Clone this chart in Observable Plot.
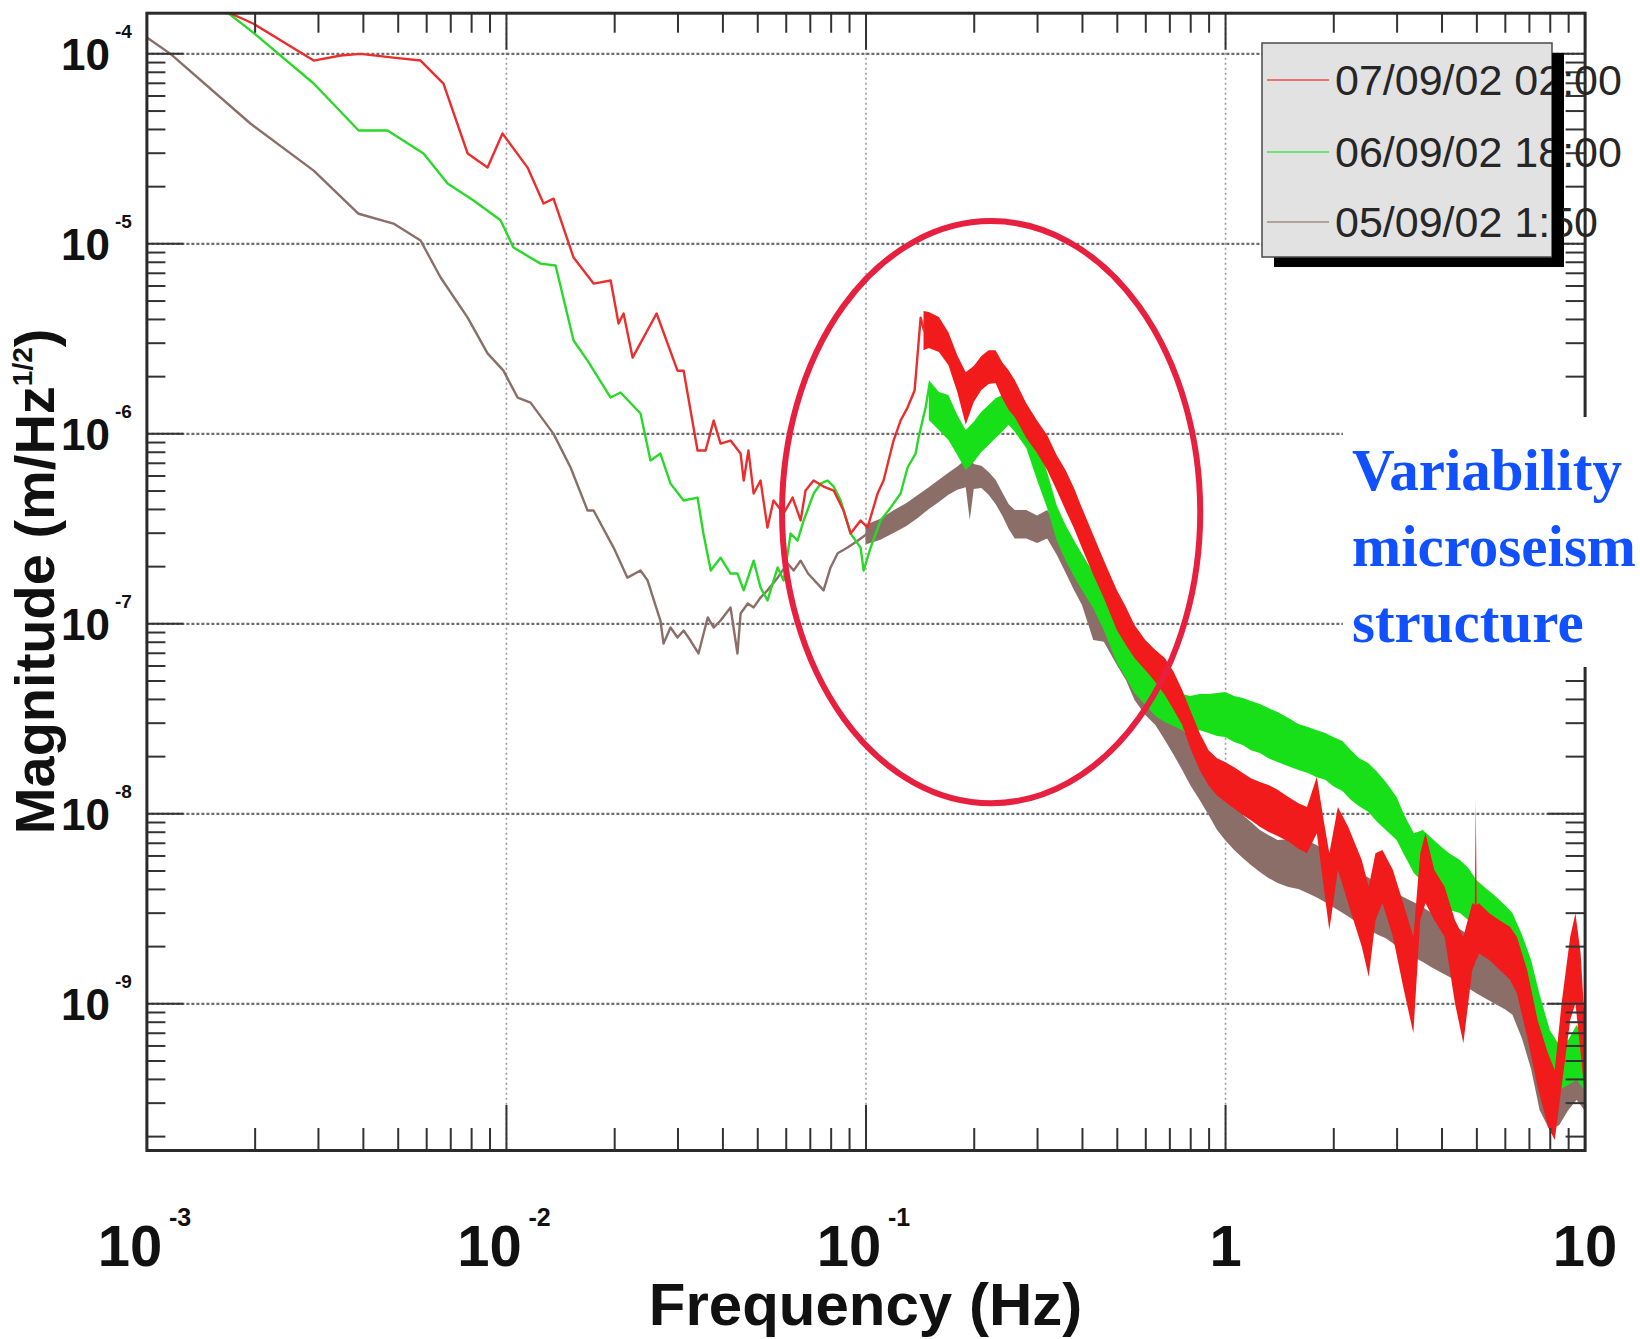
<!DOCTYPE html>
<html><head><meta charset="utf-8">
<script src="https://cdn.jsdelivr.net/npm/d3@7"></script>
<script src="https://cdn.jsdelivr.net/npm/@observablehq/plot@0.6"></script>
<style>
html,body{margin:0;padding:0;background:#fff;overflow:hidden;width:1640px;height:1339px}
svg{display:block}
</style></head><body>
<div id="chart"></div>
<script>
// ---------- data ----------
const seriesNames = ["07/09/02 02:00", "06/09/02 18:00", "05/09/02 1:50"];
const seriesColors = ["#f21b1b", "#18e018", "#8c6e68"];

const xMajor = [1e-3, 1e-2, 1e-1, 1, 10];
const xExpTicks = [1e-3, 1e-2, 1e-1];
const xExpLabels = ["-3", "-2", "-1"];
const xPlainTicks = [1, 10];
const xPlainLabels = ["1", "10"];
const yMajor = [1e-4, 1e-5, 1e-6, 1e-7, 1e-8, 1e-9];
const yExpLabels = ["-4", "-5", "-6", "-7", "-8", "-9"];
const yDomain = [1.69e-10, 1.637e-4];

// [frequency Hz, magnitude]
const redLine = [
[1.62e-3,1.71e-4],[1.98e-3,1.44e-4],[2.91e-3,9.22e-5],[3.46e-3,9.8e-5],[3.93e-3,1.0e-4],[4.85e-3,9.56e-5],
[5.77e-3,9.22e-5],[6.68e-3,6.98e-5],[7.80e-3,2.99e-5],[8.86e-3,2.52e-5],[9.75e-3,3.81e-5],[1.145e-2,2.52e-5],
[1.268e-2,1.63e-5],[1.352e-2,1.73e-5],[1.537e-2,8.47e-6],[1.747e-2,6.18e-6],[1.949e-2,6.41e-6],[2.05e-2,3.81e-6],
[2.117e-2,4.30e-6],[2.243e-2,2.52e-6],[2.616e-2,4.30e-6],[2.99e-2,2.15e-6],[3.11e-2,2.15e-6],[3.40e-2,8.17e-7],
[3.58e-2,8.17e-7],[3.77e-2,1.175e-6],[3.94e-2,8.89e-7],[4.20e-2,9.22e-7],[4.48e-2,7.87e-7],[4.57e-2,5.68e-7],
[4.71e-2,8.17e-7],[4.87e-2,4.85e-7],[5.09e-2,5.68e-7],[5.32e-2,3.21e-7],[5.53e-2,4.46e-7],[5.90e-2,3.81e-7],
[6.25e-2,4.62e-7],[6.58e-2,3.50e-7],[6.79e-2,5.03e-7],[7.15e-2,5.68e-7],[7.62e-2,5.28e-7],[8.13e-2,5.03e-7],
[8.66e-2,3.95e-7],[9.06e-2,2.99e-7],[9.66e-2,3.50e-7],[0.101,3.21e-7],[0.1077,4.85e-7],[0.1119,5.68e-7],
[0.1193,9.22e-7],[0.1248,1.175e-6],[0.1305,1.375e-6],[0.1365,1.69e-6],[0.1419,4.09e-6],[0.145,3.5e-6]
];
// [frequency, low edge, high edge] of the noisy part
const redBand = [
[0.145,2.74e-6,4.40e-6],[0.15,2.81e-6,4.35e-6],[0.16,2.68e-6,4.09e-6],[0.17,2.29e-6,3.41e-6],[0.18,1.65e-6,2.58e-6],
[0.19,1.11e-6,2.10e-6],[0.20,1.46e-6,2.26e-6],[0.21,1.69e-6,2.55e-6],[0.22,1.82e-6,2.74e-6],[0.23,1.84e-6,2.74e-6],
[0.24,1.53e-6,2.37e-6],[0.25,1.33e-6,2.15e-6],[0.26,1.22e-6,1.91e-6],[0.28,9.45e-7,1.44e-6],[0.30,7.87e-7,1.17e-6],
[0.32,6.41e-7,9.80e-7],[0.34,5.03e-7,7.69e-7],[0.36,3.95e-7,6.41e-7],[0.38,3.17e-7,5.15e-7],[0.40,2.49e-7,4.05e-7],
[0.43,1.80e-7,2.92e-7],[0.46,1.36e-7,2.15e-7],[0.50,9.22e-8,1.50e-7],[0.53,7.69e-8,1.22e-7],[0.56,6.57e-8,9.80e-8],
[0.60,5.68e-8,8.17e-8],[0.64,4.91e-8,7.24e-8],[0.68,4.19e-8,6.57e-8],[0.72,3.50e-8,5.54e-8],[0.76,2.92e-8,4.46e-8],
[0.80,2.21e-8,3.50e-8],[0.85,1.69e-8,2.65e-8],[0.90,1.40e-8,2.15e-8],[0.95,1.24e-8,1.95e-8],[1.00,1.15e-8,1.86e-8],
[1.06,1.06e-8,1.75e-8],[1.12,9.8e-9,1.63e-8],[1.18,9.2e-9,1.53e-8],[1.25,8.5e-9,1.46e-8],[1.32,8.0e-9,1.41e-8],
[1.40,7.6e-9,1.33e-8],[1.50,7.1e-9,1.22e-8],[1.60,6.5e-9,1.13e-8],[1.69,6.16e-9,1.08e-8],[1.80,7.85e-9,1.56e-8],
[1.88,4.11e-9,9.22e-9],[1.95,2.43e-9,6.16e-9],[2.06,5.03e-9,1.08e-8],[2.20,3.36e-9,8.50e-9],[2.40,1.99e-9,5.68e-9],
[2.51,1.38e-9,4.11e-9],[2.62,2.74e-9,6.16e-9],[2.74,3.36e-9,6.41e-9],[2.93,2.24e-9,5.03e-9],[3.13,1.22e-9,3.36e-9],
[3.34,6.95e-10,2.24e-9],[3.49,2.74e-9,6.16e-9],[3.61,3.36e-9,7.85e-9],[3.82,2.74e-9,5.03e-9],[4.08,2.24e-9,4.11e-9],
[4.36,1.0e-9,2.74e-9],[4.60,6.16e-10,2.24e-9],[4.87,1.50e-9,3.36e-9],[4.95,1.6e-9,3.3e-9],[4.98,1.69e-9,1.17e-8],
[5.01,1.7e-9,3.3e-9],[5.09,1.83e-9,3.36e-9],[5.43,1.69e-9,2.98e-9],[5.80,1.50e-9,2.74e-9],[6.20,1.33e-9,2.53e-9],
[6.48,1.13e-9,2.24e-9],[6.92,6.67e-10,1.50e-9],[7.40,3.64e-10,8.17e-10],[7.91,2.24e-10,5.46e-10],[8.26,1.91e-10,4.46e-10],
[8.63,3.64e-10,1.0e-9],[9.12,8.17e-10,2.24e-9],[9.43,1.0e-9,2.98e-9],[9.75,5.46e-10,1.83e-9],[10.0,3.36e-10,8.17e-10]
];

const greenLine = [
[1.58e-3,1.80e-4],[1.98e-3,1.29e-4],[2.91e-3,6.98e-5],[3.88e-3,3.95e-5],[4.67e-3,3.95e-5],[5.88e-3,2.99e-5],
[6.86e-3,2.08e-5],[8.10e-3,1.69e-5],[9.63e-3,1.33e-5],[1.046e-2,9.56e-6],[1.244e-2,7.87e-6],[1.37e-2,7.69e-6],
[1.537e-2,3.10e-6],[1.681e-2,2.43e-6],[1.949e-2,1.553e-6],[2.077e-2,1.65e-6],[2.36e-2,1.279e-6],[2.515e-2,7.24e-7],
[2.68e-2,7.87e-7],[2.86e-2,5.47e-7],[3.11e-2,4.46e-7],[3.40e-2,4.62e-7],[3.53e-2,2.99e-7],[3.70e-2,1.908e-7],
[3.94e-2,2.23e-7],[4.20e-2,1.84e-7],[4.39e-2,1.84e-7],[4.57e-2,1.50e-7],[4.87e-2,2.15e-7],[5.09e-2,1.553e-7],
[5.32e-2,1.326e-7],[5.68e-2,1.98e-7],[5.90e-2,1.69e-7],[6.17e-2,2.99e-7],[6.45e-2,2.74e-7],[6.71e-2,3.50e-7],
[7.15e-2,4.85e-7],[7.48e-2,5.47e-7],[7.82e-2,5.68e-7],[8.13e-2,5.28e-7],[8.50e-2,4.46e-7],[9.06e-2,2.99e-7],
[9.66e-2,2.52e-7],[9.85e-2,1.908e-7],[0.1030,2.52e-7],[0.1098,3.50e-7],[0.1171,4.09e-7],[0.1248,4.85e-7],
[0.1305,6.65e-7],[0.1374,7.87e-7],[0.1400,9.56e-7],[0.1465,1.375e-6],[0.1503,1.84e-6]
];
const greenBand = [
[0.15,1.175e-6,1.91e-6],[0.16,1.04e-6,1.65e-6],[0.17,9.22e-7,1.59e-6],[0.18,7.69e-7,1.25e-6],[0.19,6.41e-7,1.04e-6],
[0.20,7.06e-7,1.15e-6],[0.21,7.97e-7,1.30e-6],[0.22,8.68e-7,1.41e-6],[0.23,9.45e-7,1.53e-6],[0.24,1.02e-6,1.59e-6],
[0.25,1.11e-6,1.91e-6],[0.26,1.02e-6,1.59e-6],[0.28,8.37e-7,1.30e-6],[0.30,5.68e-7,8.68e-7],[0.32,4.05e-7,6.26e-7],
[0.34,2.74e-7,4.19e-7],[0.36,2.15e-7,3.29e-7],[0.38,1.77e-7,2.74e-7],[0.40,1.50e-7,2.32e-7],[0.43,1.20e-7,1.86e-7],
[0.46,9.22e-8,1.43e-7],[0.50,6.18e-8,9.56e-8],[0.53,5.15e-8,7.97e-8],[0.56,4.30e-8,6.65e-8],[0.60,3.72e-8,5.68e-8],
[0.64,3.25e-8,5.03e-8],[0.68,3.02e-8,4.68e-8],[0.72,2.88e-8,4.46e-8],[0.76,2.74e-8,4.25e-8],[0.80,2.68e-8,4.14e-8],
[0.85,2.74e-8,4.25e-8],[0.90,2.65e-8,4.25e-8],[0.95,2.55e-8,4.30e-8],[1.00,2.52e-8,4.35e-8],[1.06,2.37e-8,4.14e-8],
[1.12,2.29e-8,4.05e-8],[1.18,2.15e-8,3.90e-8],[1.25,2.08e-8,3.76e-8],[1.32,1.95e-8,3.58e-8],[1.40,1.86e-8,3.41e-8],
[1.50,1.77e-8,3.17e-8],[1.60,1.69e-8,2.95e-8],[1.70,1.63e-8,2.85e-8],[1.80,1.55e-8,2.74e-8],[1.90,1.50e-8,2.65e-8],
[2.00,1.39e-8,2.52e-8],[2.12,1.31e-8,2.40e-8],[2.24,1.175e-8,2.15e-8],[2.36,1.09e-8,1.95e-8],[2.50,1.02e-8,1.84e-8],
[2.65,9.00e-9,1.65e-8],[2.80,8.17e-9,1.46e-8],[3.00,7.24e-9,1.22e-8],[3.15,6.03e-9,9.80e-9],[3.35,4.85e-9,7.85e-9],
[3.55,4.35e-9,8.17e-9],[3.75,3.72e-9,7.41e-9],[4.00,3.29e-9,6.65e-9],[4.20,3.10e-9,6.16e-9],[4.50,2.99e-9,5.68e-9],
[4.75,2.74e-9,5.15e-9],[5.00,2.52e-9,4.46e-9],[5.30,2.43e-9,4.05e-9],[5.60,2.37e-9,3.72e-9],[6.00,2.23e-9,3.29e-9],
[6.30,2.10e-9,2.99e-9],[6.70,1.41e-9,2.29e-9],[7.10,1.04e-9,1.69e-9],[7.50,6.03e-10,1.11e-9],[8.00,4.19e-10,7.24e-10],
[8.50,3.50e-10,6.03e-10],[9.00,3.72e-10,6.41e-10],[9.50,3.95e-10,7.69e-10],[10.0,3.50e-10,6.41e-10]
];

const brownLine = [
[1.0e-3,1.22e-4],[1.163e-3,1.0e-4],[1.94e-3,4.30e-5],[2.91e-3,2.43e-5],[3.88e-3,1.44e-5],[4.85e-3,1.279e-5],
[5.77e-3,1.041e-5],[6.56e-3,6.65e-6],[7.80e-3,4.09e-6],[8.86e-3,2.65e-6],[9.81e-3,2.15e-6],[1.074e-2,1.553e-6],
[1.167e-2,1.46e-6],[1.352e-2,1.0e-6],[1.508e-2,6.65e-7],[1.681e-2,3.95e-7],[1.747e-2,3.95e-7],[1.986e-2,2.52e-7],
[2.17e-2,1.75e-7],[2.36e-2,1.908e-7],[2.47e-2,1.69e-7],[2.68e-2,1.041e-7],[2.735e-2,7.87e-8],[2.86e-2,9.56e-8],
[2.99e-2,8.47e-8],[3.11e-2,9.22e-8],[3.25e-2,8.17e-8],[3.42e-2,6.98e-8],[3.63e-2,1.08e-7],[3.77e-2,9.56e-8],
[3.94e-2,1.041e-7],[4.20e-2,1.22e-7],[4.39e-2,6.98e-8],[4.48e-2,1.133e-7],[4.69e-2,1.279e-7],[4.87e-2,1.22e-7],
[5.09e-2,1.375e-7],[5.32e-2,1.50e-7],[5.68e-2,1.75e-7],[6.05e-2,2.08e-7],[6.29e-2,1.908e-7],[6.58e-2,2.15e-7],
[6.90e-2,1.84e-7],[7.62e-2,1.50e-7],[7.97e-2,1.98e-7],[8.34e-2,2.35e-7],[8.89e-2,2.52e-7],[9.48e-2,2.74e-7],
[0.1010,2.99e-7]
];
const brownBand = [
[0.10,2.60e-7,3.30e-7],[0.11,2.75e-7,3.55e-7],[0.12,3.00e-7,3.95e-7],[0.13,3.25e-7,4.30e-7],[0.14,3.60e-7,4.75e-7],
[0.15,4.00e-7,5.20e-7],[0.16,4.35e-7,5.70e-7],[0.17,4.75e-7,6.20e-7],[0.18,5.05e-7,6.70e-7],[0.19,5.20e-7,7.30e-7],
[0.195,3.50e-7,7.50e-7],[0.20,5.10e-7,6.90e-7],[0.21,5.15e-7,6.75e-7],[0.22,4.75e-7,6.25e-7],[0.23,4.25e-7,5.70e-7],
[0.24,3.70e-7,4.90e-7],[0.25,3.15e-7,4.25e-7],[0.26,2.80e-7,3.95e-7],[0.28,2.80e-7,3.95e-7],[0.30,2.65e-7,3.70e-7],
[0.32,2.80e-7,3.95e-7],[0.34,2.30e-7,3.30e-7],[0.36,1.85e-7,2.60e-7],[0.38,1.50e-7,2.15e-7],[0.40,1.25e-7,1.80e-7],
[0.43,8.17e-8,1.45e-7],[0.46,8.00e-8,1.20e-7],[0.50,6.03e-8,9.80e-8],[0.53,5.03e-8,8.17e-8],[0.56,3.95e-8,6.81e-8],
[0.60,3.29e-8,5.82e-8],[0.64,2.92e-8,4.74e-8],[0.68,2.43e-8,3.95e-8],[0.72,2.03e-8,3.29e-8],[0.76,1.69e-8,2.81e-8],
[0.80,1.41e-8,2.43e-8],[0.85,1.175e-8,2.03e-8],[0.90,9.80e-9,1.69e-8],[0.95,8.17e-9,1.41e-8],[1.00,7.24e-9,1.25e-8],
[1.06,6.41e-9,1.11e-8],[1.12,5.82e-9,9.80e-9],[1.18,5.35e-9,9.00e-9],[1.25,4.91e-9,8.17e-9],[1.32,4.57e-9,7.69e-9],
[1.40,4.30e-9,7.24e-9],[1.50,4.1e-9,7.3e-9],[1.60,4.0e-9,7.5e-9],[1.70,3.8e-9,7.2e-9],[1.80,3.6e-9,6.8e-9],
[1.90,3.4e-9,6.4e-9],[2.00,3.2e-9,6.0e-9],[2.12,3.0e-9,5.6e-9],[2.24,2.8e-9,5.2e-9],[2.36,2.6e-9,4.9e-9],
[2.50,2.45e-9,4.6e-9],[2.65,2.3e-9,4.3e-9],[2.80,2.2e-9,4.1e-9],[3.00,2.0e-9,3.8e-9],[3.15,1.9e-9,3.6e-9],
[3.35,1.75e-9,3.4e-9],[3.55,1.65e-9,3.2e-9],[3.75,1.55e-9,3.0e-9],[4.00,1.45e-9,2.8e-9],[4.20,1.38e-9,2.6e-9],
[4.50,1.28e-9,2.45e-9],[4.75,1.2e-9,2.3e-9],[5.00,1.13e-9,2.15e-9],[5.30,1.06e-9,2.0e-9],[5.60,1.0e-9,1.9e-9],
[6.00,9.3e-10,1.78e-9],[6.30,8.7e-10,1.68e-9],[6.70,6.5e-10,1.25e-9],[7.10,4.5e-10,8.5e-10],[7.50,2.74e-10,4.74e-10],
[8.00,2.15e-10,3.50e-10],[8.50,2.29e-10,3.95e-10],[9.00,2.74e-10,5.03e-10],[9.50,3.10e-10,5.68e-10],[10.0,2.74e-10,5.03e-10]
];

// annotation ellipse bounds (data units)
const ellipseBox = {fMin: 0.0586, fMax: 0.853, mMin: 1.13e-8, mMax: 1.31e-5};
const noteLines = ["Variability", "microseism", "structure"];

// ---------- chart ----------
const W = 1640, H = 1339;
const mL = 146.4, mR = 55.4, mT = 12.7, mB = 189;
const innerW = W - mL - mR, innerH = H - mT - mB;
const sans = "'Liberation Sans', Arial, Helvetica, sans-serif";
const serif = "'Liberation Serif', 'Times New Roman', Times, serif";

const pts = a => a.map(([f, m]) => ({f, m}));
const band = a => a.map(([f, lo, hi]) => ({f, lo, hi}));

const xMinor = [];
for (const d of xMajor.slice(0, -1)) for (let k = 2; k <= 9; k++) xMinor.push(d * k);
const yMinor = [];
for (let e = -10; e <= -4; e++) for (let k = 2; k <= 9; k++) {
  const v = k * Math.pow(10, e);
  if (v > yDomain[0] && v < yDomain[1]) yMinor.push(v);
}

const [cRed, cGreen, cBrown] = seriesColors;
const tickStroke = "#333";

const chart = Plot.plot({
  width: W, height: H,
  marginLeft: mL, marginRight: mR, marginTop: mT, marginBottom: mB,
  x: {type: "log", domain: [1e-3, 10], axis: null},
  y: {type: "log", domain: yDomain, axis: null},
  marks: [
    Plot.ruleX(xMajor.slice(1, -1), {x: d => d, stroke: "#9a9a9a", strokeWidth: 1.6, strokeDasharray: "2,3"}),
    Plot.ruleY(yMajor, {y: d => d, stroke: "#6c6c6c", strokeWidth: 2.2, strokeDasharray: "3,2"}),

    Plot.areaY(band(brownBand), {x: "f", y1: "lo", y2: "hi", fill: cBrown, clip: true}),
    Plot.line(pts(brownLine), {x: "f", y: "m", stroke: cBrown, strokeWidth: 2.4, clip: true}),
    Plot.areaY(band(greenBand), {x: "f", y1: "lo", y2: "hi", fill: cGreen, clip: true}),
    Plot.line(pts(greenLine), {x: "f", y: "m", stroke: "#2ad82a", strokeWidth: 2.4, clip: true}),
    Plot.areaY(band(redBand), {x: "f", y1: "lo", y2: "hi", fill: cRed, clip: true}),
    Plot.line(pts(redLine), {x: "f", y: "m", stroke: "#ea2e2e", strokeWidth: 2.4, clip: true}),

    // ticks (inside the frame)
    Plot.tickX(xMinor, {x: d => d, insetTop: innerH - 22, stroke: tickStroke, strokeWidth: 2}),
    Plot.tickX(xMajor, {x: d => d, insetTop: innerH - 45, stroke: tickStroke, strokeWidth: 2}),
    Plot.tickX(xMinor, {x: d => d, insetBottom: innerH - 20, stroke: tickStroke, strokeWidth: 2}),
    Plot.tickX(xMajor, {x: d => d, insetBottom: innerH - 37, stroke: tickStroke, strokeWidth: 2}),
    Plot.tickY(yMinor, {y: d => d, insetRight: innerW - 19, stroke: tickStroke, strokeWidth: 2}),
    Plot.tickY(yMajor, {y: d => d, insetRight: innerW - 37, stroke: tickStroke, strokeWidth: 2}),
    Plot.tickY(yMinor, {y: d => d, insetLeft: innerW - 19, stroke: tickStroke, strokeWidth: 2}),
    Plot.tickY(yMajor, {y: d => d, insetLeft: innerW - 37, stroke: tickStroke, strokeWidth: 2}),

    Plot.frame({stroke: "#2a2a2a", strokeWidth: 3}),

    // x tick labels
    Plot.text(xExpTicks, {x: d => d, y: yDomain[0], text: () => "10", dx: -17, dy: 115, lineAnchor: "bottom",
      textAnchor: "middle", fontSize: 58, fontWeight: "bold", fontFamily: sans, fill: "#111"}),
    Plot.text(xExpTicks, {x: d => d, y: yDomain[0], text: (d, i) => xExpLabels[i], dx: 22, dy: 75, lineAnchor: "bottom",
      textAnchor: "start", fontSize: 25, fontWeight: "bold", fontFamily: sans, fill: "#111"}),
    Plot.text(xPlainTicks, {x: d => d, y: yDomain[0], text: (d, i) => xPlainLabels[i], dy: 115, lineAnchor: "bottom",
      textAnchor: "middle", fontSize: 58, fontWeight: "bold", fontFamily: sans, fill: "#111"}),
    // y tick labels
    Plot.text(yMajor, {x: 1e-3, y: d => d, text: () => "10", dx: -37, dy: 16, lineAnchor: "bottom",
      textAnchor: "end", fontSize: 44, fontWeight: "bold", fontFamily: sans, fill: "#111"}),
    Plot.text(yMajor, {x: 1e-3, y: d => d, text: (d, i) => yExpLabels[i], dx: -32, dy: -16, lineAnchor: "bottom",
      textAnchor: "start", fontSize: 19, fontWeight: "bold", fontFamily: sans, fill: "#111"})
  ]
});

const sx = chart.scale("x"), sy = chart.scale("y");
const svg = d3.select(chart);

// annotation ellipse
{
  const x1 = sx.apply(ellipseBox.fMin), x2 = sx.apply(ellipseBox.fMax);
  const y1 = sy.apply(ellipseBox.mMax), y2 = sy.apply(ellipseBox.mMin);
  svg.append("ellipse")
    .attr("cx", (x1 + x2) / 2).attr("cy", (y1 + y2) / 2)
    .attr("rx", (x2 - x1) / 2).attr("ry", (y2 - y1) / 2)
    .attr("fill", "none").attr("stroke", "#e8203f").attr("stroke-width", 6);
}

// axis titles
svg.append("text")
  .attr("x", mL + innerW / 2).attr("y", 1325)
  .attr("text-anchor", "middle").attr("font-family", sans).attr("font-weight", "bold")
  .attr("font-size", 60).attr("fill", "#111").text("Frequency (Hz)");
{
  const t = svg.append("text")
    .attr("transform", `translate(54,${mT + innerH / 2}) rotate(-90)`)
    .attr("text-anchor", "middle").attr("font-family", sans).attr("font-weight", "bold")
    .attr("font-size", 56).attr("fill", "#111");
  t.append("tspan").text("Magnitude (m/Hz");
  t.append("tspan").attr("font-size", 28).attr("dy", -22).text("1/2");
  t.append("tspan").attr("dy", 22).text(")");
}

// legend
{
  const lx = 1262, ly = 43, lw = 290, lh = 214;
  svg.append("rect").attr("x", lx + 12).attr("y", ly + 10).attr("width", lw).attr("height", lh).attr("fill", "#000");
  svg.append("rect").attr("x", lx).attr("y", ly).attr("width", lw).attr("height", lh)
    .attr("fill", "#e2e2e2").attr("stroke", "#4a4a4a").attr("stroke-width", 1.5);
  const rows = [80, 152, 222];
  seriesNames.forEach((name, i) => {
    svg.append("line").attr("x1", 1267).attr("x2", 1329).attr("y1", rows[i]).attr("y2", rows[i])
      .attr("stroke", seriesColors[i]).attr("stroke-width", 2).attr("opacity", 0.55);
    svg.append("text").attr("x", 1335).attr("y", rows[i] + 15).attr("text-anchor", "start")
      .attr("font-family", sans).attr("font-size", 43).attr("fill", "#262626").text(name);
  });
  // shadow strip drawn over the overflowing text
  svg.append("rect").attr("x", lx + lw).attr("y", ly + 10).attr("width", 11).attr("height", lh).attr("fill", "#000");
}

// blue note
{
  svg.append("rect").attr("x", 1343).attr("y", 417).attr("width", 297).attr("height", 250).attr("fill", "#fff");
  const base = [490, 566, 642];
  noteLines.forEach((s, i) => {
    svg.append("text").attr("x", 1352).attr("y", base[i]).attr("text-anchor", "start")
      .attr("font-family", serif).attr("font-weight", "bold").attr("font-size", 59)
      .attr("fill", "#1050ff").text(s);
  });
}

document.getElementById("chart").appendChild(chart);
</script>
</body></html>
